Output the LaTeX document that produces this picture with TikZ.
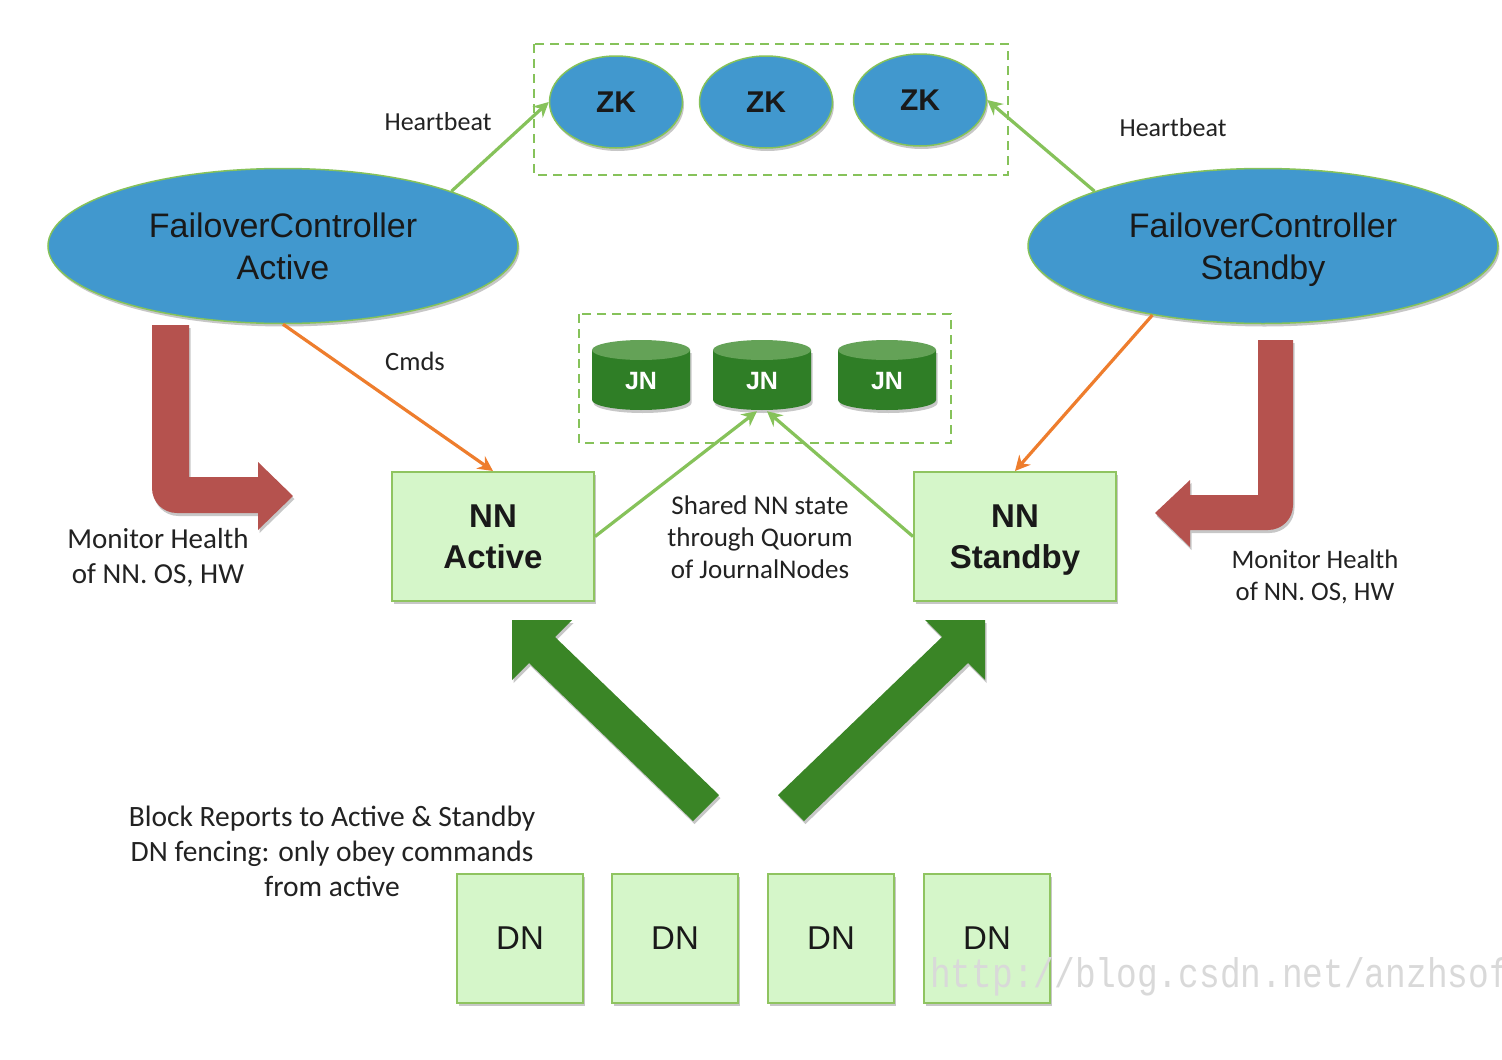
\documentclass[tikz,border=0pt]{standalone}
\usepackage{fontspec}
\setmainfont{Liberation Sans}
\newfontfamily\labfont{Carlito}
\newfontfamily\wmfont{Liberation Mono}
\usetikzlibrary{shapes.geometric,arrows.meta,shadows}

\definecolor{zkblue}{HTML}{4198CE}
\definecolor{lgreen}{HTML}{86C25A}
\definecolor{boxfill}{HTML}{D5F6C9}
\definecolor{boxline}{HTML}{8FC460}
\definecolor{orangeln}{HTML}{EE7D2D}
\definecolor{redarrow}{HTML}{B5524E}
\definecolor{darkgreen}{HTML}{3A8526}
\definecolor{jnbody}{HTML}{2F7E26}
\definecolor{jntop}{HTML}{64A257}
\definecolor{labtext}{HTML}{222222}

\begin{document}
\begin{tikzpicture}[x=1pt,y=-1pt,
  shadowed/.style={drop shadow={shadow xshift=1.5pt,shadow yshift=-3pt,opacity=0.22,fill=black}},
  bigell/.style={ellipse, draw=lgreen, line width=1.5pt, fill=zkblue, minimum width=470pt, minimum height=155pt, inner sep=0pt, align=center, text=black!90, font=\fontsize{34}{42}\selectfont, shadowed},
  zkell/.style={ellipse, draw=lgreen, line width=1.5pt, fill=zkblue, minimum width=133pt, minimum height=92pt, inner sep=0pt, text=black!90, font=\bfseries\fontsize{30}{36}\selectfont, shadowed},
  nnbox/.style={rectangle, draw=boxline, line width=2pt, fill=boxfill, minimum width=202pt, minimum height=129pt, align=center, text=black!90, font=\bfseries\fontsize{33}{41}\selectfont, shadowed},
  dnbox/.style={rectangle, draw=boxline, line width=2pt, fill=boxfill, minimum width=126pt, minimum height=129pt, text=black!90, font=\fontsize{33}{40}\selectfont, shadowed},
  jnlabel/.style={minimum width=98pt, minimum height=60pt, inner sep=0pt, text=white, font=\bfseries\fontsize{25}{30}\selectfont},
  grp/.style={draw=lgreen, line width=2.5pt, dash pattern=on 9pt off 6pt},
  lab/.style={align=center, inner sep=0pt, text=labtext},
  hb/.style={draw=lgreen, line width=3.2pt, -{Stealth[length=15pt,width=15pt,inset=5pt]}},
  cmd/.style={draw=orangeln, line width=3.2pt, -{Stealth[length=15pt,width=15pt,inset=5pt]}},
]
\useasboundingbox[fill=white] (0,0) rectangle (1502,1060);

% group boxes
\draw[grp] (534,44) rectangle (1008,175);
\draw[grp] (579,314) rectangle (951,443);

% ellipses
\node[bigell] (fca) at (283,246) {FailoverController\\Active};
\node[bigell] (fcs) at (1263,246) {FailoverController\\Standb\smash{y}};
\node[zkell] (zk1) at (616,102) {ZK};
\node[zkell] (zk2) at (766,102) {ZK};
\node[zkell] (zk3) at (920,100) {ZK};

% journal node cylinders
\foreach \cx in {641,762,887} {
  \fill[jnbody, shadowed] (\cx-49,350) -- (\cx-49,400)
     .. controls (\cx-49,405.5) and (\cx-27,410) .. (\cx,410)
     .. controls (\cx+27,410) and (\cx+49,405.5) .. (\cx+49,400)
     -- (\cx+49,350) -- cycle;
  \fill[jntop] (\cx,350) ellipse [x radius=49, y radius=10];
}
\node[jnlabel] (jn1) at (641,381) {JN};
\node[jnlabel] (jn2) at (762,381) {JN};
\node[jnlabel] (jn3) at (887,381) {JN};

% name nodes
\node[nnbox] (nna) at (493,536.5) {NN\\Active};
\node[nnbox] (nns) at (1015,536.5) {NN\\Standb\smash{y}};

% data nodes
\node[dnbox] (dn1) at (520,938.5) {DN};
\node[dnbox] (dn2) at (675,938.5) {DN};
\node[dnbox] (dn3) at (831,938.5) {DN};
\node[dnbox] (dn4) at (987,938.5) {DN};

% thin connectors
\draw[hb] (fca.18) -- (zk1.west);
\draw[hb] (fcs.162) -- (zk3.east);
\draw[cmd] (fca.south) -- (nna.north);
\draw[cmd] (fcs.212) -- (nns.north);
\draw[hb] (nna.east) -- ([xshift=-5pt]jn2.south);
\draw[hb] (nns.west) -- ([xshift=5pt]jn2.south);

% red monitor arrows
\fill[redarrow, shadowed] (152,325) -- (189,325) -- (189,477) -- (258,477) -- (258,462)
   -- (293,496) -- (258,530) -- (258,513) -- (177,513)
   .. controls (163,513) and (152,502) .. (152,488) -- cycle;
\fill[redarrow, shadowed] (1258,340) -- (1293,340) -- (1293,505)
   .. controls (1293,519) and (1282,530) .. (1268,530) -- (1190,530) -- (1190,547)
   -- (1155,513) -- (1190,480) -- (1190,495) -- (1258,495) -- cycle;

% big green block-report arrows
\fill[darkgreen, shadowed] (719,795) -- (555,637) -- (572,620) -- (512,620) -- (512,680)
   -- (529,663) -- (693,821) -- cycle;
\fill[darkgreen, shadowed] (778,795) -- (942,637) -- (925,620) -- (985,620) -- (985,680)
   -- (968,663) -- (804,821) -- cycle;

% labels
\node[lab, font=\labfont\fontsize{26}{31}\selectfont] (hbl) at (438,122) {Heartbeat};
\node[lab, font=\labfont\fontsize{26}{31}\selectfont] (hbr) at (1173,128) {Heartbeat};
\node[lab, font=\labfont\fontsize{26.5}{31}\selectfont] (cmds) at (415,361) {Cmds};
\node[lab, font=\labfont\fontsize{29}{35}\selectfont] (mhl) at (158,558) {Monitor Health\\of NN. OS, HW};
\node[lab, font=\labfont\fontsize{26.7}{32}\selectfont] (mhr) at (1315,577) {Monitor Health\\of NN. OS, HW};
\node[lab, font=\labfont\fontsize{27}{32}\selectfont] (shared) at (760,537) {Shared NN state\\through Quorum\\of JournalNodes};
\node[lab, font=\labfont\fontsize{29.5}{35}\selectfont] (block) at (332,851) {Block Reports to Active \& Standby\\DN fencing: only obey commands\\from active};

% watermark
\node[anchor=base west, inner sep=0pt, text=black!15, font=\wmfont\fontsize{34.5}{34.5}\selectfont] (wm) at (930,987) {\scalebox{1}[1.2]{http://blog.csdn.net/anzhsoft}};
\end{tikzpicture}
\end{document}
